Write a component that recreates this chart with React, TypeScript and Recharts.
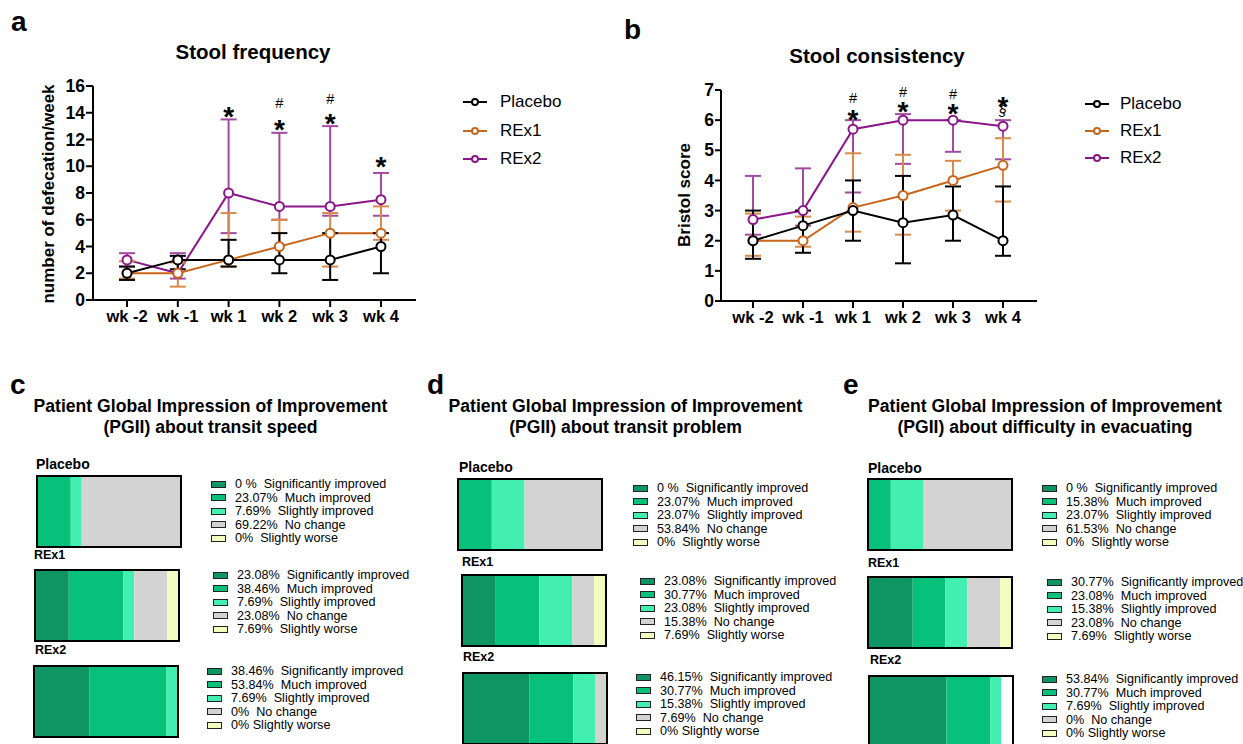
import React from 'react';
import { ComposedChart, Line, XAxis, YAxis, ErrorBar, BarChart, Bar } from 'recharts';

const weeks = ['wk -2', 'wk -1', 'wk 1', 'wk 2', 'wk 3', 'wk 4'];
const seriesNames = ['Placebo', 'REx1', 'REx2'];
const seriesColors = ['#000000', '#c9661b', '#8a168a'];
const errColors = ['#000000', '#d98a4a', '#a24aa2'];

// a: stool frequency (defecations / week), mean with low / high of the error bar
const freqPlacebo = [2, 3, 3, 3, 3, 4];
const freqPlaceboLow = [1.5, 2.3, 2.5, 2, 1.5, 2];
const freqPlaceboHigh = [2.5, 3.3, 4.5, 5, 5, 5];
const freqREx1 = [2, 2, 3, 4, 5, 5];
const freqREx1Low = [1.6, 1, 2.5, 3, 2.5, 4.5];
const freqREx1High = [2.9, 2.8, 6.5, 6, 6.5, 7];
const freqREx2 = [3, 2, 8, 7, 7, 7.5];
const freqREx2Low = [2.5, 1.6, 5, 6, 6.3, 6.3];
const freqREx2High = [3.5, 3.5, 13.5, 12.5, 13, 9.5];
const freqStar = [null, null, 14.2, 13.2, 13.7, 10.5];
const freqHash = [null, null, null, 14.7, 15, null];

// b: Bristol score
const bristolPlacebo = [2, 2.5, 3, 2.6, 2.85, 2];
const bristolPlaceboLow = [1.4, 1.6, 2, 1.25, 2, 1.5];
const bristolPlaceboHigh = [3, 3, 4, 4.15, 3.8, 3.8];
const bristolREx1 = [2, 2, 3.1, 3.5, 4, 4.5];
const bristolREx1Low = [1.5, 1.8, 2.3, 2.2, 3, 3.3];
const bristolREx1High = [2.9, 2.8, 4.9, 4.85, 4.65, 5.4];
const bristolREx2 = [2.7, 3, 5.7, 6, 6, 5.8];
const bristolREx2Low = [2.2, 2.5, 3.6, 4.55, 4.95, 4.7];
const bristolREx2High = [4.15, 4.4, 6, 6.2, 6, 6];
const bristolStar = [null, null, 6.25, 6.5, 6.45, 6.68];
const bristolHash = [null, null, 6.72, 6.92, 6.87, null];
const bristolSection = [null, null, null, null, null, 6.28];

// c-e: PGII answers, % of patients (legend text as printed)
const responses = ['Significantly improved', 'Much improved', 'Slightly improved', 'No change', 'Slightly worse'];
const responseColors = ['#0e9563', '#07c07a', '#42efb0', '#d3d3d3', '#f2fdc0'];

const speedPlacebo = ['0 %', '23.07%', '7.69%', '69.22%', '0%'];
const speedREx1 = ['23.08%', '38.46%', '7.69%', '23.08%', '7.69%'];
const speedREx2 = ['38.46%', '53.84%', '7.69%', '0%', '0%'];
const problemPlacebo = ['0 %', '23.07%', '23.07%', '53.84%', '0%'];
const problemREx1 = ['23.08%', '30.77%', '23.08%', '15.38%', '7.69%'];
const problemREx2 = ['46.15%', '30.77%', '15.38%', '7.69%', '0%'];
const evacPlacebo = ['0 %', '15.38%', '23.07%', '61.53%', '0%'];
const evacREx1 = ['30.77%', '23.08%', '15.38%', '23.08%', '7.69%'];
const evacREx2 = ['53.84%', '30.77%', '7.69%', '0%', '0%'];

const font = '"Liberation Sans", Arial, Helvetica, sans-serif';

function buildRows(means: number[][], lows: number[][], highs: number[][], marks: (number | null)[][]) {
  return weeks.map((w, i) => {
    const row: any = { x: i, week: w };
    means.forEach((m, s) => {
      row['s' + s] = m[i];
      row['e' + s] = [m[i] - lows[s][i], highs[s][i] - m[i]];
    });
    marks.forEach((m, k) => {
      row['m' + k] = m[i];
    });
    return row;
  });
}

function markDot(symbol: string, size: number, weight: string, dy: number, italic = false) {
  return (p: any) => {
    if (p.cy == null || isNaN(p.cy)) return <g key={p.index} />;
    return (
      <text
        key={p.index}
        x={p.cx}
        y={p.cy + dy}
        textAnchor="middle"
        fontSize={size}
        fontWeight={weight}
        fontStyle={italic ? 'italic' : 'normal'}
        fill="#000"
      >
        {symbol}
      </text>
    );
  };
}

const axisStyle = { stroke: '#000', strokeWidth: 2 };
const xTickFont = { fill: '#000', fontSize: 16.5, fontWeight: 'bold' };
const yTickFont = { fill: '#000', fontSize: 17.5, fontWeight: 'bold' };

function TimeCourse({ rows, marks, yMax, xDomain, margin, tickSize }: any) {
  const yTicks = [];
  for (let v = 0; v <= yMax; v += yMax > 10 ? 2 : 1) yTicks.push(v);
  return (
    <ComposedChart width={430} height={280} data={rows} margin={margin}>
      <XAxis
        dataKey="x"
        type="number"
        domain={xDomain}
        ticks={[0, 1, 2, 3, 4, 5]}
        interval={0}
        tickFormatter={(v: number) => weeks[v]}
        axisLine={axisStyle}
        tickLine={axisStyle}
        tickSize={7}
        tickMargin={3}
        tick={xTickFont}
        height={30}
        allowDataOverflow
      />
      <YAxis
        type="number"
        domain={[0, yMax]}
        ticks={yTicks}
        interval={0}
        axisLine={axisStyle}
        tickLine={axisStyle}
        tickSize={tickSize}
        tickMargin={1}
        tick={yTickFont}
        width={40}
      />
      {[2, 1, 0].map((s) => (
        <Line
          key={s}
          dataKey={'s' + s}
          stroke={seriesColors[s]}
          strokeWidth={2}
          dot={{ r: 4.5, stroke: seriesColors[s], strokeWidth: 2, fill: '#fff' }}
          activeDot={false}
          isAnimationActive={false}
        >
          <ErrorBar dataKey={'e' + s} width={8} stroke={errColors[s]} strokeWidth={2} direction="y" />
        </Line>
      ))}
      {marks.map((m: any, k: number) => (
        <Line
          key={'m' + k}
          dataKey={'m' + k}
          stroke="none"
          dot={markDot(m.symbol, m.size, m.weight, m.dy, m.italic)}
          activeDot={false}
          isAnimationActive={false}
        />
      ))}
    </ComposedChart>
  );
}

function SeriesLegend({ x, ys, textX }: any) {
  return (
    <>
      {seriesNames.map((n, i) => (
        <div key={n} style={{ position: 'absolute', left: x, top: ys[i] - 10, height: 20, display: 'flex', alignItems: 'center' }}>
          <svg width={26} height={12}>
            <line x1={1} y1={6} x2={25} y2={6} stroke={seriesColors[i]} strokeWidth={2} />
            <circle cx={13} cy={6} r={3} stroke={seriesColors[i]} strokeWidth={2} fill="#fff" />
          </svg>
          <span style={{ position: 'absolute', left: textX - x, fontSize: 17, whiteSpace: 'nowrap' }}>{n}</span>
        </div>
      ))}
    </>
  );
}

function Centered({ x, y, size, bold = true, children }: any) {
  return (
    <div
      style={{
        position: 'absolute',
        left: x,
        top: y,
        transform: 'translate(-50%, -50%)',
        fontSize: size,
        fontWeight: bold ? 'bold' : 'normal',
        lineHeight: 1,
        whiteSpace: 'nowrap',
      }}
    >
      {children}
    </div>
  );
}

function PanelLetter({ x, top, children }: any) {
  return (
    <div style={{ position: 'absolute', left: x, top, fontSize: 28, fontWeight: 'bold', lineHeight: 1 }}>{children}</div>
  );
}

function YLabel({ x, y, children }: any) {
  return (
    <div
      style={{
        position: 'absolute',
        left: x,
        top: y,
        transform: 'translate(-50%, -50%) rotate(-90deg)',
        fontSize: 17,
        fontWeight: 'bold',
        lineHeight: 1,
        whiteSpace: 'nowrap',
      }}
    >
      {children}
    </div>
  );
}

function PgiiGroup({ name, pcts, g, last }: any) {
  const row: any = { name };
  pcts.forEach((p: string, i: number) => {
    row['r' + i] = parseFloat(p);
  });
  return (
    <>
      <div
        style={{
          position: 'absolute',
          left: g.labelX,
          top: g.labelY,
          transform: 'translateY(-50%)',
          fontSize: name === 'Placebo' ? 14 : 12.5,
          fontWeight: 'bold',
          lineHeight: 1,
        }}
      >
        {name}
      </div>
      <div
        style={{
          position: 'absolute',
          left: g.barX,
          top: g.barY,
          width: 146,
          height: 73,
          border: '2px solid #000',
          boxSizing: 'border-box',
        }}
      >
        <BarChart
          width={142}
          height={69}
          data={[row]}
          layout="vertical"
          margin={{ top: 0, right: 0, bottom: 0, left: 0 }}
          barCategoryGap={0}
        >
          <XAxis type="number" domain={[0, 100]} hide />
          <YAxis type="category" dataKey="name" hide />
          {responses.map((r, i) => (
            <Bar key={r} dataKey={'r' + i} stackId="s" fill={responseColors[i]} isAnimationActive={false} />
          ))}
        </BarChart>
      </div>
      <div style={{ position: 'absolute', left: g.swX, top: g.rowY - 6.75 }}>
        {responses.map((r, i) => (
          <div key={r} style={{ display: 'flex', alignItems: 'center', height: 13.5, fontSize: 12.6, whiteSpace: 'pre' }}>
            <span
              style={{
                display: 'inline-block',
                width: 15,
                height: 7,
                background: responseColors[i],
                border: '1.5px solid #222',
                boxSizing: 'border-box',
                marginRight: 9,
              }}
            />
            <span>{pcts[i] + (last && i === 4 ? ' ' : '  ') + r}</span>
          </div>
        ))}
      </div>
    </>
  );
}

function PgiiPanel({ letter, letterX, titleX, topic, groups, layout }: any) {
  return (
    <>
      <PanelLetter x={letterX} top={371}>
        {letter}
      </PanelLetter>
      <Centered x={titleX} y={407} size={17.6}>
        Patient Global Impression of Improvement
      </Centered>
      <Centered x={titleX} y={428} size={17.6}>
        {'(PGII) about ' + topic}
      </Centered>
      {groups.map((pcts: string[], i: number) => (
        <PgiiGroup key={i} name={seriesNames[i]} pcts={pcts} g={layout[i]} last={i === 2} />
      ))}
    </>
  );
}

const freqRows = buildRows(
  [freqPlacebo, freqREx1, freqREx2],
  [freqPlaceboLow, freqREx1Low, freqREx2Low],
  [freqPlaceboHigh, freqREx1High, freqREx2High],
  [freqStar, freqHash]
);
const bristolRows = buildRows(
  [bristolPlacebo, bristolREx1, bristolREx2],
  [bristolPlaceboLow, bristolREx1Low, bristolREx2Low],
  [bristolPlaceboHigh, bristolREx1High, bristolREx2High],
  [bristolStar, bristolHash, bristolSection]
);

const star = { symbol: '*', size: 28, weight: 'bold', dy: 16 };
const hash = { symbol: '#', size: 14.5, weight: 'normal', dy: 5 };
const section = { symbol: '§', size: 14, weight: 'normal', dy: 4, italic: true };

const layoutC = [
  { labelX: 36, labelY: 464, barX: 36, barY: 475, swX: 211, rowY: 484 },
  { labelX: 34, labelY: 555, barX: 34, barY: 569, swX: 213, rowY: 575 },
  { labelX: 35, labelY: 650, barX: 33, barY: 665, swX: 207, rowY: 671 },
];
const layoutD = [
  { labelX: 459, labelY: 467, barX: 457, barY: 478, swX: 633, rowY: 488 },
  { labelX: 462, labelY: 562, barX: 461, barY: 574, swX: 640, rowY: 581 },
  { labelX: 463, labelY: 657, barX: 462, barY: 672, swX: 636, rowY: 677 },
];
const layoutE = [
  { labelX: 868, labelY: 468, barX: 867, barY: 478, swX: 1042, rowY: 488 },
  { labelX: 868, labelY: 563, barX: 867, barY: 576, swX: 1047, rowY: 582 },
  { labelX: 870, labelY: 660, barX: 868, barY: 675, swX: 1042, rowY: 679 },
];

export default function App() {
  return (
    <div
      style={{
        position: 'absolute',
        left: 0,
        top: 0,
        width: 1243,
        height: 744,
        overflow: 'hidden',
        background: '#fff',
        color: '#000',
        fontFamily: font,
      }}
    >
      <PanelLetter x={11} top={8}>
        a
      </PanelLetter>
      <Centered x={253} y={52} size={20.5}>
        Stool frequency
      </Centered>
      <YLabel x={47.5} y={193.5}>
        number of defecation/week
      </YLabel>
      <div style={{ position: 'absolute', left: 0, top: 60 }}>
        <TimeCourse
          rows={freqRows}
          marks={[star, hash]}
          yMax={16}
          xDomain={[-0.67, 5.69]}
          margin={{ top: 26, right: 14, bottom: 10, left: 53 }}
          tickSize={7}
        />
      </div>
      <SeriesLegend x={462} ys={[102, 131, 159]} textX={500} />

      <PanelLetter x={624} top={16}>
        b
      </PanelLetter>
      <Centered x={877} y={56} size={20.5}>
        Stool consistency
      </Centered>
      <YLabel x={684} y={195}>
        Bristol score
      </YLabel>
      <div style={{ position: 'absolute', left: 620, top: 60 }}>
        <TimeCourse
          rows={bristolRows}
          marks={[star, hash, section]}
          yMax={7}
          xDomain={[-0.64, 5.68]}
          margin={{ top: 30, right: 13, bottom: 9, left: 61 }}
          tickSize={6}
        />
      </div>
      <SeriesLegend x={1084} ys={[104, 131, 158]} textX={1120} />

      <PgiiPanel letter="c" letterX={10} titleX={210.5} topic="transit speed" groups={[speedPlacebo, speedREx1, speedREx2]} layout={layoutC} />
      <PgiiPanel letter="d" letterX={427} titleX={625.5} topic="transit problem" groups={[problemPlacebo, problemREx1, problemREx2]} layout={layoutD} />
      <PgiiPanel letter="e" letterX={843} titleX={1045} topic="difficulty in evacuating" groups={[evacPlacebo, evacREx1, evacREx2]} layout={layoutE} />
    </div>
  );
}
